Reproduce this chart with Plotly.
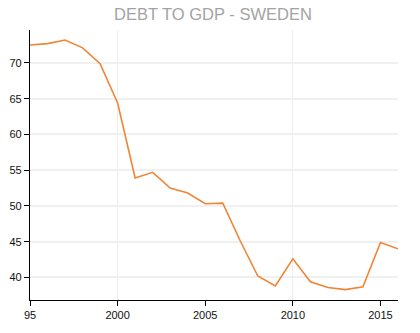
import plotly.graph_objects as go

years = list(range(1995, 2017))
debt_to_gdp = [72.5, 72.7, 73.2, 72.1, 69.9, 64.4, 53.9, 54.7, 52.5, 51.8, 50.3,
               50.4, 45.1, 40.2, 38.8, 42.6, 39.4, 38.6, 38.3, 38.7, 44.9, 44.0]

x_tick_vals = [1995, 2000, 2005, 2010, 2015]
x_tick_text = ["95", "2000", "2005", "2010", "2015"]
x_grid_vals = [2000, 2010]
y_tick_vals = [40, 45, 50, 55, 60, 65, 70]

fig = go.Figure(
    go.Scatter(
        x=years,
        y=debt_to_gdp,
        mode="lines",
        line=dict(color="#ef8535", width=1.6),
        hoverinfo="x+y",
    )
)

fig.update_layout(
    width=420,
    height=333,
    margin=dict(l=30, r=22, t=30, b=33, autoexpand=False),
    paper_bgcolor="white",
    plot_bgcolor="white",
    showlegend=False,
    title=dict(
        text="DEBT TO GDP - SWEDEN",
        x=0.507,
        xanchor="center",
        y=0.958,
        yanchor="middle",
        font=dict(family="Liberation Sans, Arial, sans-serif", size=16.5, color="#a3a3a3"),
    ),
    font=dict(family="Liberation Sans, Arial, sans-serif", size=11, color="#111"),
)

fig.update_xaxes(
    range=[1995, 2016],
    automargin=False,
    tickvals=x_tick_vals,
    ticktext=x_tick_text,
    ticks="outside",
    ticklen=5,
    tickcolor="#000",
    showline=True,
    linecolor="#000",
    linewidth=1.3,
    showgrid=False,
    zeroline=False,
    minor=dict(tickvals=x_grid_vals, showgrid=True, gridcolor="#eeeeee", gridwidth=1, ticklen=0),
)

fig.update_yaxes(
    range=[36.85, 74.6],
    automargin=False,
    tickvals=y_tick_vals,
    ticks="outside",
    ticklen=5,
    tickcolor="#000",
    showline=True,
    linecolor="#000",
    linewidth=1.3,
    showgrid=True,
    gridcolor="#f0f0f0",
    gridwidth=1.5,
    zeroline=False,
)

fig.write_html("out.html")
